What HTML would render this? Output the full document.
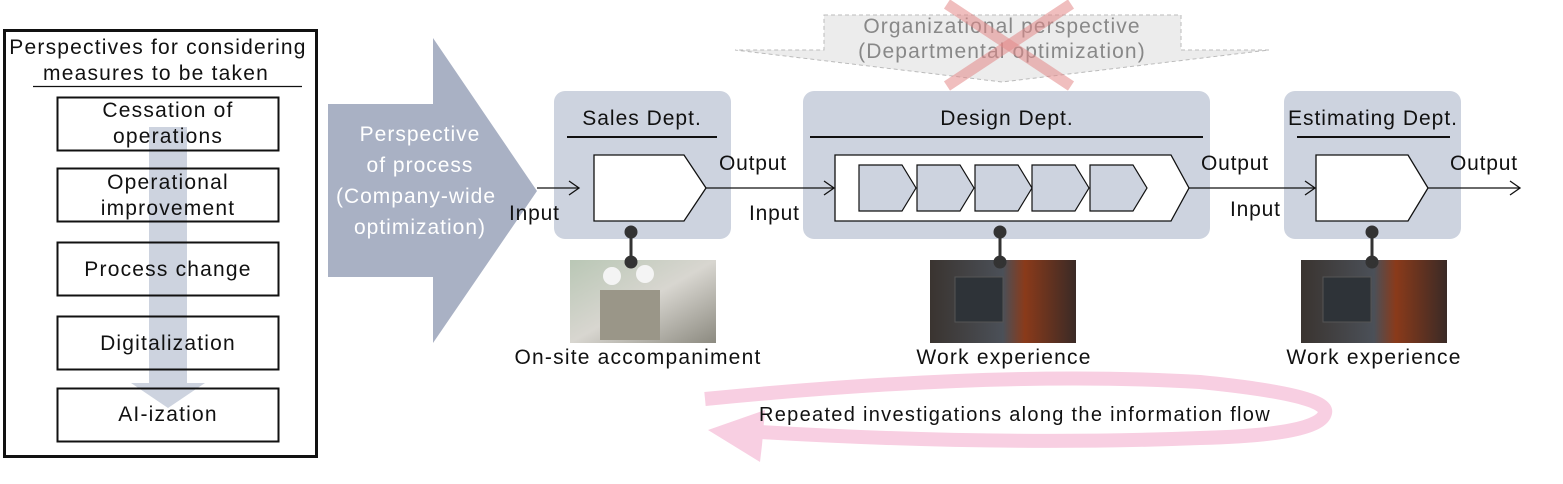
<!DOCTYPE html>
<html><head><meta charset="utf-8"><style>
html,body{margin:0;padding:0;background:#fff;}
svg{display:block;font-family:"Liberation Sans",sans-serif;}
</style></head><body>
<svg width="1563" height="484" viewBox="0 0 1563 484" xmlns="http://www.w3.org/2000/svg">
<defs>
<linearGradient id="ph1" x1="0" y1="0" x2="1" y2="1"><stop offset="0" stop-color="#b9c7b5"/><stop offset="0.5" stop-color="#d8d6d0"/><stop offset="1" stop-color="#8c8a80"/></linearGradient>
<linearGradient id="ph2" x1="0" y1="0" x2="1" y2="0"><stop offset="0" stop-color="#3a3430"/><stop offset="0.5" stop-color="#4b5058"/><stop offset="0.65" stop-color="#8a3a1a"/><stop offset="1" stop-color="#3a2a26"/></linearGradient>
</defs>
<!-- left box -->
<rect x="4.5" y="30.5" width="312" height="426" fill="#fff" stroke="#111" stroke-width="3"/>
<g font-size="21" letter-spacing="1.2" text-anchor="middle" fill="#111">
<text x="158" y="54">Perspectives for considering</text>
<text x="156" y="80">measures to be taken</text>
</g>
<line x1="33" y1="86.5" x2="302" y2="86.5" stroke="#111" stroke-width="1.2"/>
<rect x="149" y="127" width="38" height="257" fill="#cdd3df"/>
<polygon points="131,383 205,383 168,408" fill="#cdd3df"/>
<g fill="none" stroke="#111" stroke-width="2">
<rect x="57.5" y="97.5" width="221" height="53"/>
<rect x="57.5" y="168.5" width="221" height="53"/>
<rect x="57.5" y="242.5" width="221" height="53"/>
<rect x="57.5" y="316.5" width="221" height="53"/>
<rect x="57.5" y="388.5" width="221" height="53"/>
</g>
<g font-size="21" letter-spacing="1.2" text-anchor="middle" fill="#111">
<text x="168" y="117">Cessation of</text><text x="168" y="143">operations</text>
<text x="168" y="189">Operational</text><text x="168" y="215">improvement</text>
<text x="168" y="276">Process change</text>
<text x="168" y="350">Digitalization</text>
<text x="168" y="421">AI-ization</text>
</g>
<!-- big arrow -->
<polygon points="328,104 433,104 433,38 537,191 433,343 433,277 328,277" fill="#a9b1c4"/>
<g font-size="21" letter-spacing="1" text-anchor="middle" fill="#fff">
<text x="420" y="141">Perspective</text><text x="420" y="172">of process</text>
<text x="416" y="203">(Company-wide</text><text x="420" y="234">optimization)</text>
</g>
<!-- org perspective -->
<polygon points="824,15 1181,15 1181,50 1269,50 1002,82 735,50 824,50" fill="#ececec" stroke="#bbb" stroke-dasharray="4,3"/>
<g font-size="21" letter-spacing="1.1" text-anchor="middle" fill="#888">
<text x="1002" y="33">Organizational perspective</text>
<text x="1002" y="58">(Departmental optimization)</text>
</g>
<g stroke="#e48888" stroke-opacity="0.55" stroke-width="11">
<line x1="947" y1="4" x2="1071" y2="86"/><line x1="1071" y1="4" x2="947" y2="86"/>
</g>
<!-- dept boxes -->
<rect x="554" y="91" width="177" height="148" rx="11" fill="#cdd3df"/>
<rect x="803" y="91" width="407" height="148" rx="11" fill="#cdd3df"/>
<rect x="1284" y="91" width="177" height="148" rx="11" fill="#cdd3df"/>
<g font-size="21" letter-spacing="1" text-anchor="middle" fill="#111">
<text x="642" y="125">Sales Dept.</text>
<text x="1007" y="125">Design Dept.</text>
<text x="1373" y="125">Estimating Dept.</text>
</g>
<g stroke="#111" stroke-width="2">
<line x1="567" y1="137" x2="717" y2="137"/>
<line x1="810" y1="137" x2="1203" y2="137"/>
<line x1="1297" y1="137" x2="1450" y2="137"/>
</g>
<g stroke="#111" stroke-width="1.3" fill="#fff">
<polygon points="594,155 684,155 706,188 684,221 594,221"/>
<polygon points="835,155 1171,155 1189,188 1171,221 835,221"/>
<polygon points="1316,155 1408,155 1428,188 1408,221 1316,221"/>
</g>
<g stroke="#111" stroke-width="1.2" fill="#cdd3df">
<polygon points="859,165 902,165 916,188 902,211 859,211"/>
<polygon points="917,165 960,165 974,188 960,211 917,211"/>
<polygon points="975,165 1018,165 1032,188 1018,211 975,211"/>
<polygon points="1032,165 1075,165 1089,188 1075,211 1032,211"/>
<polygon points="1090,165 1133,165 1147,188 1133,211 1090,211"/>
</g>
<g stroke="#111" stroke-width="1.3" fill="none">
<line x1="537" y1="188" x2="579" y2="188"/><polyline points="569,181 579,188 569,195"/>
<line x1="706" y1="188" x2="834" y2="188"/><polyline points="824,181 834,188 824,195"/>
<line x1="1189" y1="188" x2="1315" y2="188"/><polyline points="1305,181 1315,188 1305,195"/>
<line x1="1428" y1="188" x2="1520" y2="188"/><polyline points="1510,181 1520,188 1510,195"/>
</g>
<g font-size="21" letter-spacing="0.8" fill="#111">
<text x="509" y="220">Input</text>
<text x="719" y="170">Output</text>
<text x="749" y="220">Input</text>
<text x="1201" y="170">Output</text>
<text x="1230" y="216">Input</text>
<text x="1450" y="170">Output</text>
</g>
<!-- photos -->
<rect x="570" y="260" width="146" height="83" fill="url(#ph1)"/>
<rect x="600" y="290" width="60" height="50" fill="#9a9688"/>
<circle cx="612" cy="276" r="9" fill="#f4f4f4"/><circle cx="645" cy="274" r="9" fill="#f4f4f4"/>
<rect x="930" y="260" width="146" height="83" fill="url(#ph2)"/>
<rect x="955" y="277" width="48" height="45" fill="#2e3338" stroke="#555"/>
<rect x="1301" y="260" width="146" height="83" fill="url(#ph2)"/>
<rect x="1323" y="277" width="48" height="45" fill="#2e3338" stroke="#555"/>
<g stroke="#333" stroke-width="3" fill="#333">
<line x1="631" y1="232" x2="631" y2="262"/><circle cx="631" cy="232" r="5"/><circle cx="631" cy="262" r="5"/>
<line x1="1000" y1="232" x2="1000" y2="262"/><circle cx="1000" cy="232" r="5"/><circle cx="1000" cy="262" r="5"/>
<line x1="1372" y1="232" x2="1372" y2="262"/><circle cx="1372" cy="232" r="5"/><circle cx="1372" cy="262" r="5"/>
</g>
<g font-size="21" letter-spacing="1.2" text-anchor="middle" fill="#111">
<text x="638" y="364">On-site accompaniment</text>
<text x="1004" y="364">Work experience</text>
<text x="1374" y="364">Work experience</text>
</g>
<!-- loop -->
<path d="M705,399 Q1000,370 1200,382 Q1330,395 1325,413 Q1320,435 1200,438 Q1000,446 760,432" fill="none" stroke="#f8cfe2" stroke-width="14"/>
<polygon points="708,430 765,410 762,445 760,462" fill="#f8cfe2"/>
<text x="1015" y="421" font-size="20" letter-spacing="1.3" text-anchor="middle" fill="#111">Repeated investigations along the information flow</text>
</svg>
</body></html>
